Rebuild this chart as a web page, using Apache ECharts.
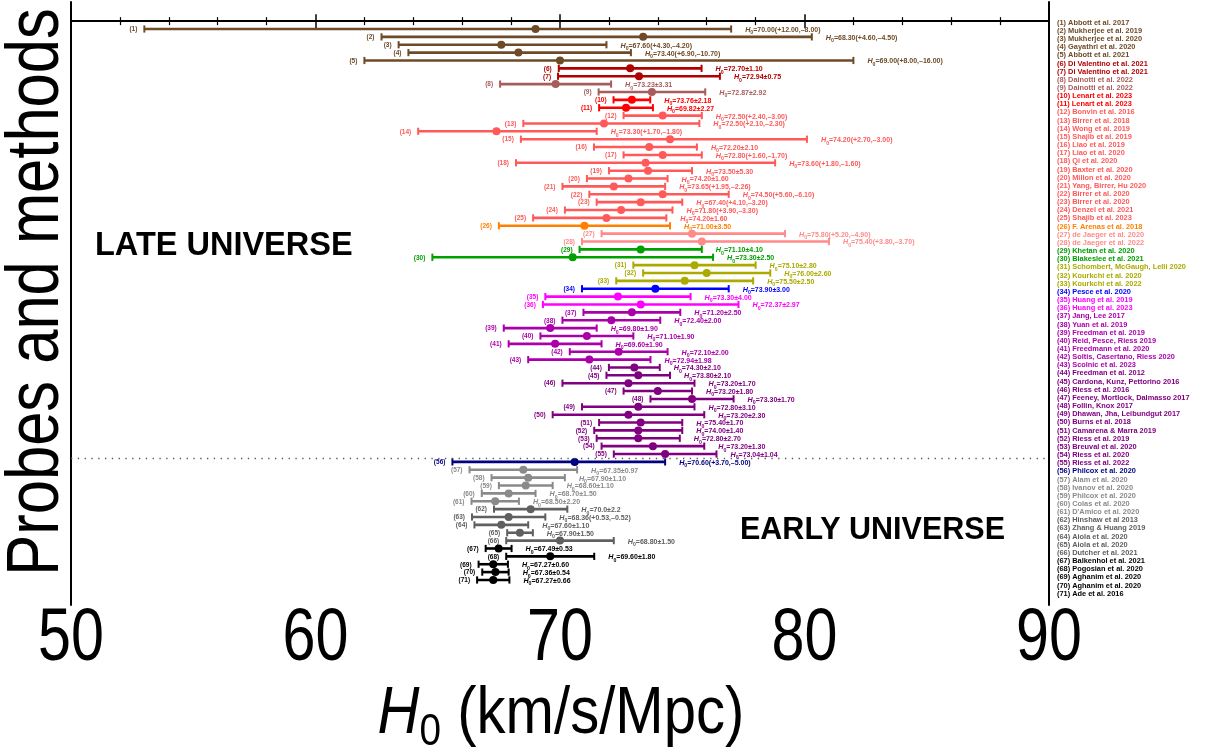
<!DOCTYPE html>
<html>
<head>
<meta charset="utf-8">
<title>H0 measurements</title>
<script src="https://cdn.jsdelivr.net/npm/echarts@6/dist/echarts.min.js"></script>
<style>
  html, body { margin: 0; padding: 0; background: #ffffff; }
  #chart { width: 1209px; height: 753px; }
</style>
</head>
<body>
<div id="chart"></div>
<script>
// Central H0 value of each row (row 1 at the top), km/s/Mpc
const centers = [
  69.00, 73.40, 67.60, 68.30, 70.00, 72.87, 73.23, 69.82, 73.76, 72.94,
  72.70, 74.20, 71.80, 67.40, 74.50, 73.65, 74.20, 73.50, 73.60, 72.80,
  72.20, 74.20, 73.30, 72.50, 71.90, 71.00, 75.40, 75.80, 73.30, 70.52,
  75.50, 76.00, 75.10, 73.90, 72.37, 73.30, 72.94, 72.10, 69.60, 71.10,
  69.80, 72.40, 71.20, 73.04, 73.20, 72.80, 74.00, 75.40, 73.20, 72.80,
  73.30, 73.20, 73.20, 73.80, 74.30, 70.60, 68.50, 68.70, 68.60, 67.90,
  67.35, 68.80, 67.90, 67.60, 68.36, 70.00, 67.49, 69.60, 67.27, 67.36,
  67.27
];
// Lower error of each row
const errMinus = [
  16.00, 10.70, 4.20, 4.50, 8.00, 2.92, 3.31, 2.27, 2.18, 0.75,
  1.10, 1.60, 3.30, 3.20, 6.10, 2.26, 1.60, 5.30, 1.60, 1.70,
  2.10, 3.00, 1.80, 2.30, 3.00, 3.50, 3.70, 4.90, 2.50, 5.74,
  2.50, 2.60, 2.80, 3.00, 2.97, 4.00, 1.98, 2.00, 1.90, 1.90,
  1.90, 2.00, 2.50, 1.04, 1.30, 2.70, 1.40, 1.70, 2.30, 3.10,
  1.70, 1.80, 1.70, 2.10, 2.10, 5.00, 2.20, 1.50, 1.10, 1.10,
  0.97, 1.50, 1.50, 1.10, 0.52, 2.20, 0.53, 1.80, 0.60, 0.54,
  0.66
];
// Upper error of each row
const errPlus = [
  8.00, 6.90, 4.30, 4.60, 12.00, 2.92, 3.31, 2.27, 2.18, 0.75,
  1.10, 1.60, 3.90, 4.10, 5.60, 1.95, 1.60, 5.30, 1.80, 1.60,
  2.10, 2.70, 1.70, 2.10, 2.45, 3.50, 3.80, 5.20, 2.50, 5.74,
  2.50, 2.60, 2.80, 3.00, 2.97, 4.00, 1.98, 2.00, 1.90, 1.90,
  1.90, 2.00, 2.50, 1.04, 1.30, 2.70, 1.40, 1.70, 2.30, 3.10,
  1.70, 1.80, 1.70, 2.10, 2.10, 3.70, 2.20, 1.50, 1.10, 1.10,
  0.97, 1.50, 1.50, 1.10, 0.53, 2.20, 0.53, 1.80, 0.60, 0.54,
  0.66
];
// Value annotations printed beside each row
const valueLabels = [
  "70.00(+12.00,\u20138.00)", "68.30(+4.60,\u20134.50)", "67.60(+4.30,\u20134.20)",
  "73.40(+6.90,\u201310.70)", "69.00(+8.00,\u201316.00)", "72.70\u00b11.10",
  "72.94\u00b10.75", "73.23\u00b13.31", "72.87\u00b12.92", "73.76\u00b12.18",
  "69.82\u00b12.27", "72.50(+2.40,\u20133.00)", "72.50(+2.10,\u20132.30)",
  "73.30(+1.70,\u20131.80)", "74.20(+2.70,\u20133.00)", "72.20\u00b12.10",
  "72.80(+1.60,\u20131.70)", "73.60(+1.80,\u20131.60)", "73.50\u00b15.30",
  "74.20\u00b11.60", "73.65(+1.95,\u20132.26)", "74.50(+5.60,\u20136.10)",
  "67.40(+4.10,\u20133.20)", "71.80(+3.90,\u20133.30)", "74.20\u00b11.60",
  "71.00\u00b13.50", "75.80(+5.20,\u20134.90)", "75.40(+3.80,\u20133.70)",
  "71.10\u00b14.10", "73.30\u00b12.50", "75.10\u00b12.80", "76.00\u00b12.60",
  "75.50\u00b12.50", "73.90\u00b13.00", "73.30\u00b14.00", "72.37\u00b12.97",
  "71.20\u00b12.50", "72.40\u00b12.00", "69.80\u00b11.90", "71.10\u00b11.90",
  "69.60\u00b11.90", "72.10\u00b12.00", "72.94\u00b11.98", "74.30\u00b12.10",
  "73.80\u00b12.10", "73.20\u00b11.70", "73.20\u00b11.80", "73.30\u00b11.70",
  "72.80\u00b13.10", "73.20\u00b12.30", "75.40\u00b11.70", "74.00\u00b11.40",
  "72.80\u00b12.70", "73.20\u00b11.30", "73.04\u00b11.04", "70.60(+3.70,\u20135.00)",
  "67.35\u00b10.97", "67.90\u00b11.10", "68.60\u00b11.10", "68.70\u00b11.50",
  "68.50\u00b12.20", "70.0\u00b12.2", "68.36(+0.53,\u20130.52)", "67.60\u00b11.10",
  "67.90\u00b11.50", "68.80\u00b11.50", "67.49\u00b10.53", "69.60\u00b11.80",
  "67.27\u00b10.60", "67.36\u00b10.54", "67.27\u00b10.66"
];
// Reference list, one entry per row
const references = [
  "Abbott et al. 2017", "Mukherjee et al. 2019", "Mukherjee et al. 2020",
  "Gayathri et al. 2020", "Abbott et al. 2021", "Di Valentino et al. 2021",
  "Di Valentino et al. 2021", "Dainotti et al. 2022", "Dainotti et al. 2022",
  "Lenart et al. 2023", "Lenart et al. 2023", "Bonvin et al. 2016",
  "Birrer et al. 2018", "Wong et al. 2019", "Shajib et al. 2019",
  "Liao et al. 2019", "Liao et al. 2020", "Qi et al. 2020", "Baxter et al. 2020",
  "Millon et al. 2020", "Yang, Birrer, Hu 2020", "Birrer et al. 2020",
  "Birrer et al. 2020", "Denzel et al. 2021", "Shajib et al. 2023",
  "F. Arenas et al. 2018", "de Jaeger et al. 2020", "de Jaeger et al. 2022",
  "Khetan et al. 2020", "Blakeslee et al. 2021", "Schombert, McGaugh, Lelli 2020",
  "Kourkchi et al. 2020", "Kourkchi et al. 2022", "Pesce et al. 2020",
  "Huang et al. 2019", "Huang et al. 2023", "Jang, Lee 2017", "Yuan et al. 2019",
  "Freedman et al. 2019", "Reid, Pesce, Riess 2019", "Freedmann et al. 2020",
  "Soltis, Casertano, Riess 2020", "Scolnic et al. 2023", "Freedman et al. 2012",
  "Cardona, Kunz, Pettorino 2016", "Riess et al. 2016",
  "Feeney, Mortlock, Dalmasso 2017", "Follin, Knox 2017",
  "Dhawan, Jha, Leibundgut 2017", "Burns et al. 2018", "Camarena & Marra 2019",
  "Riess et al. 2019", "Breuval et al. 2020", "Riess et al. 2020",
  "Riess et al. 2022", "Philcox et al. 2020", "Alam et al. 2020",
  "Ivanov et al. 2020", "Philcox et al. 2020", "Colas et al. 2020",
  "D'Amico et al. 2020", "Hinshaw et al 2013", "Zhang & Huang 2019",
  "Aiola et al. 2020", "Aiola et al. 2020", "Dutcher et al. 2021",
  "Balkenhol et al. 2021", "Pogosian et al. 2020", "Aghanim et al. 2020",
  "Aghanim et al. 2020", "Ade et al. 2016"
];
// Number of consecutive rows in each probe group, top to bottom
const groupSizes = [5, 2, 2, 2, 14, 1, 2, 2, 3, 1, 2, 7, 12, 1, 5, 5, 5];
// Axis tick values
const xTicks = [50, 60, 70, 80, 90];
// Row position that separates late- and early-universe probes
const separatorRow = 55.5;

// Colour of each probe group
const groupColors = [
  '#6e4a26', '#b00000', '#a85c5c', '#ff0000', '#ff5959', '#ff8000', '#ff8a8a',
  '#00a000', '#aaaa00', '#0000ff', '#ff00ff', '#aa00aa', '#800080', '#000080',
  '#8a8a8a', '#606060', '#000000'
];
const rowColors = [];
groupSizes.forEach((n, g) => { for (let k = 0; k < n; k++) rowColors.push(groupColors[g]); });

const FONT = '"Liberation Sans", Arial, sans-serif';

const seriesData = centers.map((c, i) => [i + 1, c, c - errMinus[i], c + errPlus[i]]);

function renderErrorBar(params, api) {
  const idx = params.dataIndex;
  const row = api.value(0);
  const pl = api.coord([api.value(2), row]);
  const pr = api.coord([api.value(3), row]);
  const pc = api.coord([api.value(1), row]);
  const color = rowColors[idx];
  const cap = 3.6;
  return {
    type: 'group',
    children: [
      { type: 'line', shape: { x1: pl[0], y1: pl[1], x2: pr[0], y2: pr[1] },
        style: { stroke: color, lineWidth: 2.6 } },
      { type: 'line', shape: { x1: pl[0], y1: pl[1] - cap, x2: pl[0], y2: pl[1] + cap },
        style: { stroke: color, lineWidth: 2 } },
      { type: 'line', shape: { x1: pr[0], y1: pr[1] - cap, x2: pr[0], y2: pr[1] + cap },
        style: { stroke: color, lineWidth: 2 } },
      { type: 'circle', shape: { cx: pc[0], cy: pc[1], r: 4 },
        style: { fill: color } },
      { type: 'text', x: pl[0] - 7, y: pl[1] + 0.5,
        style: { text: '(' + row + ')', fill: color, font: 'bold 6.5px ' + FONT,
                 align: 'right', verticalAlign: 'middle' } },
      { type: 'text', x: pr[0] + 14, y: pr[1] + 1,
        style: {
          text: '{h|H}{s|0}{v|=' + valueLabels[idx] + '}',
          fill: color, align: 'left', verticalAlign: 'middle',
          rich: {
            h: { fill: color, font: 'italic bold 7.2px ' + FONT, lineHeight: 11 },
            s: { fill: color, font: 'bold 5.2px ' + FONT, lineHeight: 5, verticalAlign: 'bottom' },
            v: { fill: color, font: 'bold 7px ' + FONT, lineHeight: 11 }
          }
        } }
    ]
  };
}

// Reference list beside the frame
const legendTop = 22.7, legendStep = 8.157;
const legendTexts = references.map((r, i) => ({
  type: 'text',
  x: 1057,
  y: legendTop + i * legendStep,
  silent: true,
  style: {
    text: '(' + (i + 1) + ') ' + r,
    fill: rowColors[i],
    font: 'bold 7.4px ' + FONT,
    align: 'left',
    verticalAlign: 'middle'
  }
}));

const chart = echarts.init(document.getElementById('chart'), null, { renderer: 'canvas' });

const xAxisCommon = {
  type: 'value',
  min: xTicks[0],
  max: xTicks[xTicks.length - 1],
  interval: xTicks[1] - xTicks[0],
  axisLine: { show: true, lineStyle: { color: '#000', width: 2 } },
  axisTick: { show: true, inside: true, length: 7, lineStyle: { color: '#000', width: 1.5 } },
  minorTick: { show: true, splitNumber: 5, length: 4, lineStyle: { color: '#000', width: 1.2 } },
  axisLabel: { show: false },
  splitLine: { show: false },
  minorSplitLine: { show: false }
};

chart.setOption({
  animation: false,
  backgroundColor: '#ffffff',
  grid: { left: 71, right: 160, top: 2, bottom: 148, show: false },
  xAxis: [
    Object.assign({}, xAxisCommon, { position: 'bottom' }),
    Object.assign({}, xAxisCommon, { position: 'top' })
  ],
  yAxis: [
    { type: 'value', min: -2.43, max: 74.18, inverse: true, position: 'left',
      axisLine: { show: true, onZero: false, lineStyle: { color: '#000', width: 2 } },
      axisTick: { show: false }, axisLabel: { show: false }, splitLine: { show: false } },
    { type: 'value', min: -2.43, max: 74.18, inverse: true, position: 'right',
      axisLine: { show: true, onZero: false, lineStyle: { color: '#000', width: 2 } },
      axisTick: { show: false }, axisLabel: { show: false }, splitLine: { show: false } }
  ],
  series: [{
    type: 'custom',
    xAxisIndex: 0,
    yAxisIndex: 0,
    renderItem: renderErrorBar,
    data: seriesData,
    clip: false,
    silent: true,
    markLine: {
      silent: true,
      symbol: ['none', 'none'],
      label: { show: false },
      lineStyle: { color: '#555', width: 1.3, type: [1.3, 5.5] },
      data: [{ yAxis: separatorRow }]
    }
  }]
});

// Tick labels: tall condensed digits, centred on the axis' own tick positions
const tickLabels = xTicks.map(v => ({
  type: 'text',
  x: chart.convertToPixel({ xAxisIndex: 0 }, v),
  y: 639,
  scaleX: 0.79,
  silent: true,
  style: { text: String(v), fill: '#000', font: '75px ' + FONT,
           align: 'center', verticalAlign: 'middle' }
}));

chart.setOption({
  graphic: [
    { type: 'text', x: 37, y: 292, rotation: Math.PI / 2, scaleX: 0.82, silent: true,
      style: { text: 'Probes and methods', fill: '#000', font: '75px ' + FONT,
               align: 'center', verticalAlign: 'middle' } },
    { type: 'text', x: 561, y: 715, scaleX: 0.88, silent: true,
      style: {
        text: '{h|H}{s|0}{v| (km/s/Mpc)}',
        fill: '#000', align: 'center', verticalAlign: 'middle',
        rich: {
          h: { fill: '#000', font: 'italic 66px ' + FONT, lineHeight: 80 },
          s: { fill: '#000', font: '44px ' + FONT, lineHeight: 45, verticalAlign: 'bottom' },
          v: { fill: '#000', font: '66px ' + FONT, lineHeight: 80 }
        }
      } },
    { type: 'text', x: 95, y: 246, silent: true,
      style: { text: 'LATE UNIVERSE', fill: '#000', font: 'bold 32.5px ' + FONT,
               align: 'left', verticalAlign: 'middle' } },
    { type: 'text', x: 740, y: 531, silent: true,
      style: { text: 'EARLY UNIVERSE', fill: '#000', font: 'bold 30.5px ' + FONT,
               align: 'left', verticalAlign: 'middle' } }
  ].concat(tickLabels, legendTexts)
});
</script>
</body>
</html>
